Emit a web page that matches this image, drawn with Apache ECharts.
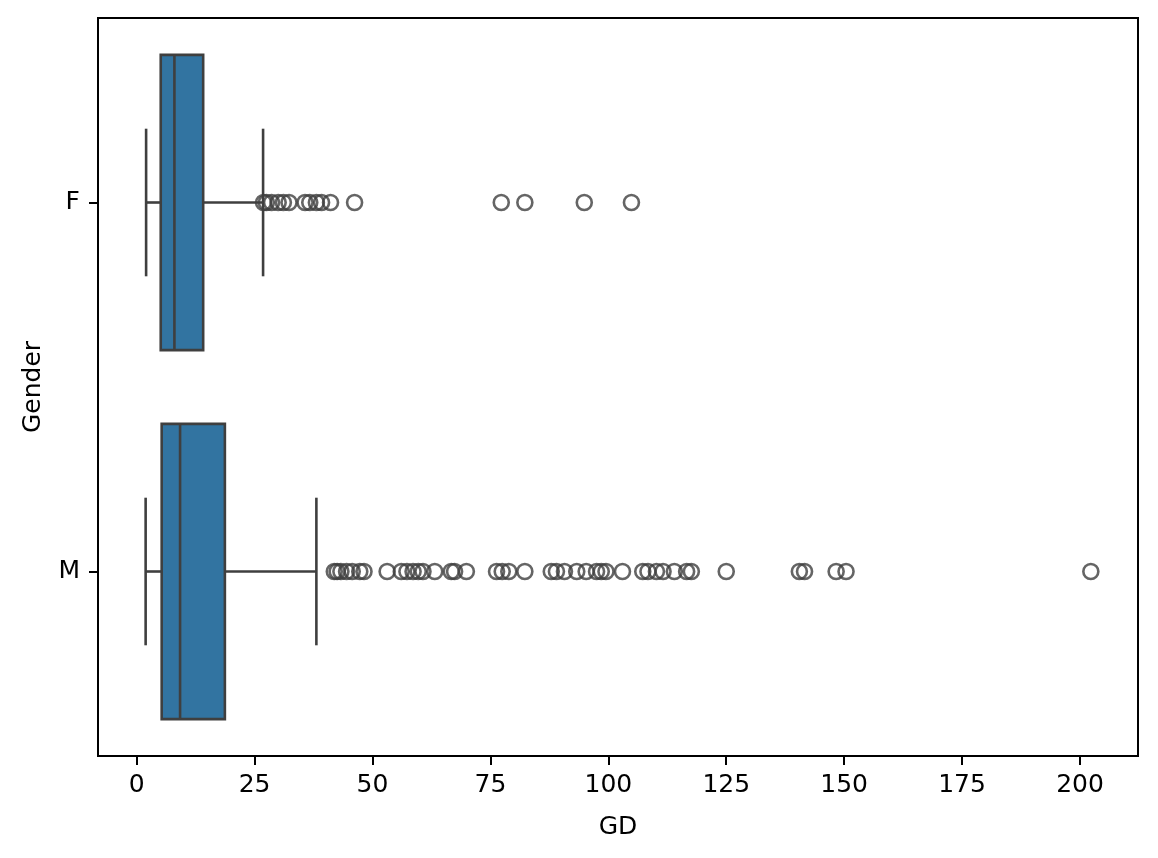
<!DOCTYPE html>
<html>
<head>
<meta charset="utf-8">
<script src="https://cdn.jsdelivr.net/npm/echarts@6/dist/echarts.min.js"></script>
<style>html,body{margin:0;padding:0;background:#fff}#c{width:1158px;height:858px}</style>
</head>
<body>
<div id="c"></div>
<script>
const categories = ['F', 'M'];
// [lowerWhisker, Q1, median, Q3, upperWhisker]
const statsF = [2.0, 5.1, 8.0, 14.1, 26.8];
const statsM = [1.9, 5.3, 9.2, 18.7, 38.1];
const outliersF = [26.9, 27.5, 28.6, 30.0, 31.1, 32.3, 35.7, 36.7, 38.1, 39.2, 41.1, 46.2, 77.3, 82.3, 94.9, 104.9];
const outliersM = [41.9, 42.5, 43.3, 44.5, 45.7, 47.3, 48.2, 53.1, 56.1, 57.3, 58.6, 59.7, 60.7, 63.2, 66.7, 67.4, 69.9,
  76.3, 77.5, 78.9, 82.3, 87.9, 89.0, 90.7, 93.3, 95.3, 97.5, 98.5, 99.5, 103.0, 107.3, 108.4, 110.2, 111.6, 114.0,
  116.6, 117.6, 125.0, 140.5, 141.6, 148.3, 150.4, 202.3];
const xTicks = [0, 25, 50, 75, 100, 125, 150, 175, 200];

const lineColor = '#3f3f3f';
const boxColor = '#3274a1';
const font = 'DejaVu Sans';

const boxData = [
  [0].concat(statsF),
  [1].concat(statsM)
];
const outlierData = [];
outliersF.forEach(v => outlierData.push([v, 0]));
outliersM.forEach(v => outlierData.push([v, 1]));

const chart = echarts.init(document.getElementById('c'));
chart.setOption({
  animation: false,
  backgroundColor: '#fff',
  grid: {
    left: 98, right: 20, top: 18, bottom: 102,
    show: true, borderColor: '#000', borderWidth: 2,
    outerBoundsMode: 'none'
  },
  xAxis: {
    type: 'value',
    min: -8.2, max: 212.3,
    name: 'GD', nameLocation: 'middle', nameGap: 59,
    nameTextStyle: { fontFamily: font, fontSize: 25, color: '#000' },
    axisLine: { show: true, onZero: false, lineStyle: { color: '#000', width: 2 } },
    axisTick: { show: true, length: 9, lineStyle: { color: '#000', width: 2 }, customValues: xTicks },
    axisLabel: { fontFamily: font, fontSize: 25, color: '#000', margin: 17, customValues: xTicks },
    splitLine: { show: false }
  },
  yAxis: {
    type: 'category',
    data: categories,
    inverse: true,
    name: 'Gender', nameLocation: 'middle', nameGap: 52, nameRotate: 90,
    nameTextStyle: { fontFamily: font, fontSize: 25, color: '#000' },
    axisLine: { show: true, onZero: false, lineStyle: { color: '#000', width: 2 } },
    axisTick: { show: true, alignWithLabel: true, length: 9, lineStyle: { color: '#000', width: 2 } },
    axisLabel: { fontFamily: font, fontSize: 25, color: '#000', margin: 18 },
    splitLine: { show: false }
  },
  series: [
    {
      type: 'custom',
      data: boxData,
      encode: { y: 0, x: [1, 2, 3, 4, 5] },
      renderItem: function (params, api) {
        const cat = api.value(0);
        const band = api.size([0, 1])[1];
        const half = band * 0.4;
        const capHalf = band * 0.2;
        const pMin = api.coord([api.value(1), cat]);
        const pQ1 = api.coord([api.value(2), cat]);
        const pMed = api.coord([api.value(3), cat]);
        const pQ3 = api.coord([api.value(4), cat]);
        const pMax = api.coord([api.value(5), cat]);
        const cy = pQ1[1];
        const ls = { stroke: lineColor, lineWidth: 2.6 };
        return {
          type: 'group',
          children: [
            { type: 'line', shape: { x1: pMin[0], y1: cy, x2: pQ1[0], y2: cy }, style: ls },
            { type: 'line', shape: { x1: pQ3[0], y1: cy, x2: pMax[0], y2: cy }, style: ls },
            { type: 'line', shape: { x1: pMin[0], y1: cy - capHalf, x2: pMin[0], y2: cy + capHalf }, style: ls },
            { type: 'line', shape: { x1: pMax[0], y1: cy - capHalf, x2: pMax[0], y2: cy + capHalf }, style: ls },
            { type: 'rect', shape: { x: pQ1[0], y: cy - half, width: pQ3[0] - pQ1[0], height: half * 2 },
              style: { fill: boxColor, stroke: lineColor, lineWidth: 2.6 } },
            { type: 'line', shape: { x1: pMed[0], y1: cy - half, x2: pMed[0], y2: cy + half }, style: ls }
          ]
        };
      },
      z: 2
    },
    {
      type: 'scatter',
      data: outlierData,
      symbol: 'circle',
      symbolSize: 15,
      itemStyle: { color: 'rgba(0,0,0,0)', borderColor: lineColor, borderWidth: 2.6 },
      z: 3
    }
  ]
});
</script>
</body>
</html>
